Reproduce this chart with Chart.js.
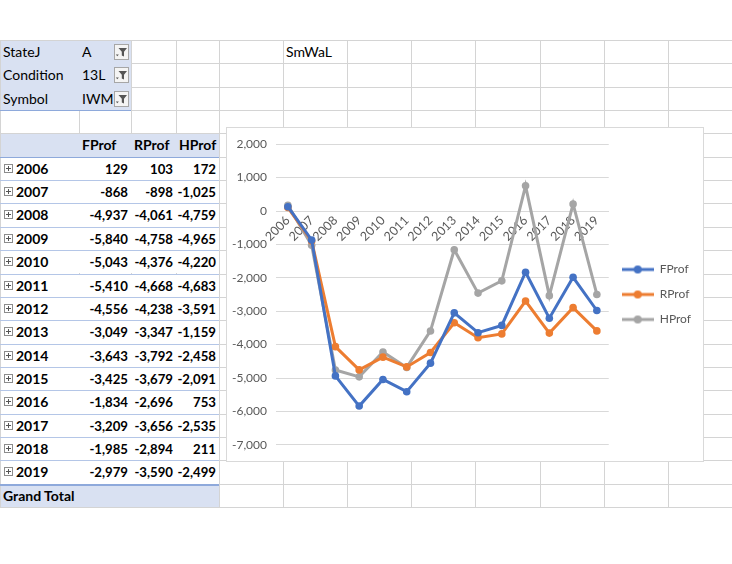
<!DOCTYPE html>
<html>
<head>
<meta charset="utf-8">
<script src="https://cdn.jsdelivr.net/npm/chart.js@4.4.1/dist/chart.umd.min.js"></script>
<style>
  body { margin: 0; width: 732px; height: 564px; background: #fff; position: relative; overflow: hidden; font-family: Lato, "Liberation Sans", sans-serif; font-size: 14px; color: #000; }
  .abs { position: absolute; box-sizing: border-box; }
  .txt { position: absolute; white-space: nowrap; line-height: 24px; }
  .b { font-weight: bold; }
  .num { font-size: 13.2px; }
  .btn { position: absolute; width: 15px; height: 16px; border: 1px solid #a6a6a6; background: #f4f4f4; box-sizing: border-box; }
  .plus { position: absolute; width: 9px; height: 9px; border: 1px solid #8c8c8c; box-sizing: border-box; background: #fff; }
  #chartBox { position: absolute; left: 226px; top: 127px; width: 478px; height: 335px; background: #fff; border: 1px solid #d9d9d9; box-sizing: border-box; }
</style>
</head>
<body>
<div id="sheet"></div>
<div id="chartBox"><canvas id="myChart" width="476" height="333"></canvas></div>
<script>
// chart data
const years = ['2006', '2007', '2008', '2009', '2010', '2011', '2012', '2013', '2014', '2015', '2016', '2017', '2018', '2019']
const fProf = [129, -868, -4937, -5840, -5043, -5410, -4556, -3049, -3643, -3425, -1834, -3209, -1985, -2979]
const rProf = [103, -898, -4061, -4758, -4376, -4668, -4238, -3347, -3792, -3679, -2696, -3656, -2894, -3590]
const hProf = [172, -1025, -4759, -4965, -4220, -4683, -3591, -1159, -2458, -2091, 753, -2535, 211, -2499]
const seriesNames = ['FProf', 'RProf', 'HProf']
const seriesColors = ['#4472c4', '#ed7d31', '#a5a5a5']
const yMin = -7000
const yMax = 2000
const yStep = 1000

// pivot filters
const filterNames = ['StateJ', 'Condition', 'Symbol']
const filterValues = ['A', '13L', 'IWM']
const sheetTitle = 'SmWaL'

const colX = [0, 79, 131, 176, 219, 283, 347, 411, 475, 540, 604, 668, 732]
const rowH = 23.35
const top0 = 40
const nRows = 20

function rowY(r) {
    return top0 + r * rowH
}

function fmt(n) {
    return n.toLocaleString('en-US')
}

function addDiv(cls, style, html) {
    const d = document.createElement('div')
    d.className = cls
    Object.assign(d.style, style)
    if (html !== undefined) d.innerHTML = html
    document.getElementById('sheet').appendChild(d)
    return d
}

function buildSheet() {
    const bottom = rowY(nRows)
    // grid lines
    for (let c = 0; c < colX.length - 1; c++) {
        addDiv('abs', { left: colX[c] + 'px', top: top0 + 'px', width: '1px', height: (bottom - top0) + 'px', background: '#d4d4d4' })
    }
    for (let r = 0; r <= nRows; r++) {
        addDiv('abs', { left: '0px', top: rowY(r) + 'px', width: '732px', height: '1px', background: '#d4d4d4' })
    }
    // filter area
    addDiv('abs', { left: '1px', top: (rowY(0) + 1) + 'px', width: '130px', height: (rowY(3) - rowY(0) - 1) + 'px', background: '#d9e1f2' })
    addDiv('abs', { left: '0px', top: rowY(3) + 'px', width: '131px', height: '1px', background: '#8ea9db' })
    const funnel = '<svg width="13" height="14" viewBox="0 0 13 14"><path d="M3.5 3 H12 L9 6.8 V11.5 L6.8 10.5 V6.8 Z" fill="#555"/><path d="M0.8 9.5 H3.8 L2.3 11.3 Z" fill="#555"/></svg>'
    for (let i = 0; i < filterNames.length; i++) {
        addDiv('txt', { left: '3px', top: rowY(i) + 'px' }, filterNames[i])
        addDiv('txt', { left: '82px', top: rowY(i) + 'px' }, filterValues[i])
        addDiv('btn', { left: '114px', top: (rowY(i) + 4) + 'px' }, funnel)
    }
    addDiv('txt', { left: '286px', top: rowY(0) + 'px' }, sheetTitle)

    // header row
    addDiv('abs', { left: '1px', top: (rowY(4) + 1) + 'px', width: '218px', height: (rowH - 1) + 'px', background: '#d9e1f2' })
    addDiv('abs', { left: '0px', top: rowY(5) + 'px', width: '219px', height: '1px', background: '#8ea9db' })
    for (let s = 0; s < seriesNames.length; s++) {
        addDiv('txt b', { left: (colX[s + 1] + 3) + 'px', top: rowY(4) + 'px' }, seriesNames[s])
    }

    // data rows
    const series = [fProf, rProf, hProf]
    for (let i = 0; i < years.length; i++) {
        const r = 5 + i
        addDiv('abs', { left: '1px', top: (rowY(r) + 1) + 'px', width: '218px', height: (rowH - 1) + 'px', background: '#fff' })
        addDiv('abs', { left: '0px', top: rowY(r + 1) + 'px', width: '219px', height: '1px', background: '#b4c6e7' })
        addDiv('plus', { left: '4px', top: (rowY(r) + 7) + 'px' }, '<svg width="7" height="7" viewBox="0 0 7 7" style="position:absolute;left:0;top:0"><path d="M1 3.5 H6 M3.5 1 V6" stroke="#555" stroke-width="1"/></svg>')
        addDiv('txt b', { left: '16px', top: rowY(r) + 'px' }, years[i])
        for (let s = 0; s < series.length; s++) {
            addDiv('txt b num', { right: (732 - colX[s + 2] + 3) + 'px', top: rowY(r) + 'px' }, fmt(series[s][i]))
        }
    }

    // grand total
    const g = 5 + years.length
    addDiv('abs', { left: '1px', top: (rowY(g) + 1) + 'px', width: '218px', height: (rowH - 1) + 'px', background: '#d9e1f2' })
    addDiv('abs', { left: '0px', top: rowY(g) + 'px', width: '219px', height: '2px', background: '#8ea9db' })
    addDiv('txt b', { left: '3px', top: rowY(g) + 'px' }, 'Grand Total')
    // white below the grid
    addDiv('abs', { left: '0px', top: (bottom + 1) + 'px', width: '732px', height: (564 - bottom) + 'px', background: '#fff' })
}

function legendIcon(color) {
    const c = document.createElement('canvas')
    c.width = 32
    c.height = 10
    const ctx = c.getContext('2d')
    ctx.strokeStyle = color
    ctx.lineWidth = 3
    ctx.beginPath()
    ctx.moveTo(0, 5)
    ctx.lineTo(32, 5)
    ctx.stroke()
    ctx.fillStyle = color
    ctx.beginPath()
    ctx.arc(16, 5, 4, 0, Math.PI * 2)
    ctx.fill()
    return c
}

function createLineChart() {
    const values = [fProf, rProf, hProf]
    const icons = seriesColors.map(legendIcon)
    let datasets = []
    for (let i = 0; i < values.length; i++) {
        datasets.push({
            label: seriesNames[i],
            data: values[i],
            borderColor: seriesColors[i],
            backgroundColor: seriesColors[i],
            borderWidth: 3,
            pointRadius: 3.8,
            pointBorderWidth: 0,
            pointHoverRadius: 3.8,
            tension: 0
        })
    }
    const chartConfig = {
        type: 'line',
        data: {
            labels: years,
            datasets: datasets
        },
        options: {
            responsive: false,
            animation: false,
            layout: {
                padding: { top: 16, bottom: 16, left: 0, right: 2 }
            },
            plugins: {
                tooltip: { enabled: false },
                legend: {
                    position: 'right',
                    align: 'center',
                    labels: {
                        usePointStyle: true,
                        pointStyleWidth: 32,
                        padding: 13,
                        color: '#595959',
                        font: { family: 'Lato', size: 12 },
                        generateLabels: function (chart) {
                            const items = Chart.defaults.plugins.legend.labels.generateLabels(chart)
                            items.forEach((it, i) => { it.pointStyle = icons[i] })
                            return items
                        }
                    }
                }
            },
            scales: {
                x: {
                    position: { y: 0 },
                    offset: true,
                    grid: { display: false, drawTicks: false },
                    border: { display: true, color: '#d9d9d9' },
                    ticks: {
                        minRotation: 45,
                        maxRotation: 45,
                        padding: 2,
                        autoSkip: false,
                        color: '#595959',
                        font: { family: 'Lato', size: 12.5 }
                    }
                },
                y: {
                    min: yMin,
                    max: yMax,
                    grid: { color: '#d9d9d9', drawTicks: false },
                    border: { display: false },
                    afterFit: function (scale) { scale.width = 49 },
                    ticks: {
                        stepSize: yStep,
                        padding: 9,
                        color: '#595959',
                        font: { family: 'Lato', size: 12 },
                        callback: function (v) { return fmt(v) }
                    }
                }
            }
        }
    }
    const canvas = document.getElementById('myChart')
    new Chart(canvas, chartConfig)
}

buildSheet()
createLineChart()
</script>
</body>
</html>
